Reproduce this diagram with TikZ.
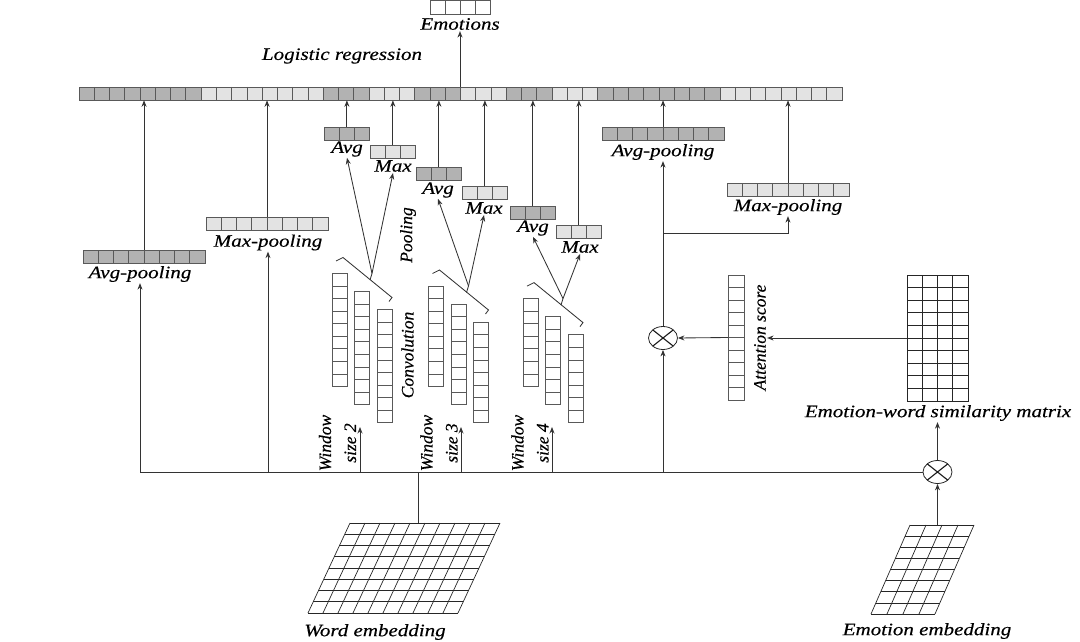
\documentclass[tikz,border=0pt]{standalone}
\usepackage{fontspec}
\setmainfont{Liberation Serif}[FakeStretch=1.2,FakeBold=0.35]
\newfontfamily\rotfont{Liberation Serif}[FakeBold=0.35]
\usetikzlibrary{arrows.meta,calc,shapes.geometric}

\tikzset{
  lab/.style={font=\fontsize{17.5}{21}\selectfont\itshape, inner sep=1pt},
  rlab/.style={font=\rotfont\fontsize{17.5}{25}\selectfont\itshape, rotate=90, inner sep=1pt, align=center},
  ln/.style={draw=black!80, line width=0.85pt},
  arr/.style={ln, -{Stealth[length=6.5pt,width=5pt]}},
  vecbox/.style={draw=black!65, line width=0.7pt, inner sep=0pt, outer sep=0pt, anchor=north west},
  dark/.style={fill=black!30},
  light/.style={fill=black!11},
  blank/.style={fill=white},
  cellline/.style={draw=black!65, line width=0.7pt},
  gridline/.style={draw=black!85, line width=0.7pt},
  otimes/.style={ellipse, draw=black!85, line width=0.8pt, inner sep=0pt,
    minimum width=29pt, minimum height=23pt, fill=white,
    path picture={\draw[black!90,line width=1.1pt]
      (path picture bounding box.north west) -- (path picture bounding box.south east)
      (path picture bounding box.north east) -- (path picture bounding box.south west);}},
}

% horizontal vector: name, position (top-left), cells, cell width, fill style
\newcommand{\hvec}[5]{%
  \node[vecbox,#5,minimum width={#3*#4pt},minimum height=13.3pt] (#1) at #2 {};
  \pgfmathtruncatemacro\nlast{#3-1}
  \foreach \k in {1,...,\nlast}{%
    \draw[cellline] ([xshift=\k*#4pt]#1.north west) -- ([xshift=\k*#4pt]#1.south west);}
}
% vertical vector: name, position (top-left), cells, cell height, width
\newcommand{\vvec}[5]{%
  \node[vecbox,fill=white,minimum width=#5pt,minimum height={#3*#4pt}] (#1) at #2 {};
  \pgfmathtruncatemacro\nlast{#3-1}
  \foreach \k in {1,...,\nlast}{%
    \draw[cellline] ([yshift=-\k*#4pt]#1.north west) -- ([yshift=-\k*#4pt]#1.north east);}
}
% convolution group: id, X, Y (top-left of first column), cells
\newcommand{\convgroup}[4]{%
  \vvec{c#1a}{(#2,#3)}{#4}{12.55}{15}
  \vvec{c#1b}{(#2+22.5,#3+18.1)}{#4}{12.55}{15}
  \vvec{c#1c}{(#2+45,#3+36.2)}{#4}{12.55}{15}
  \draw[ln] (#2+4,#3-12.5) -- (#2+11,#3-16) -- (#2+60,#3+24) -- (#2+57,#3+28);
  \coordinate (ap#1) at (#2+40,#3);
  \draw[ln] (#2+38,#3+6.5) -- (ap#1);
}

\begin{document}
\begin{tikzpicture}[x=1pt,y=-1pt]
\useasboundingbox (0,0) rectangle (1080,642);

% ---------- top concatenated vector ----------
\hvec{b1}{(79,87)}{8}{15.26}{dark}
\hvec{b2}{(b1.north east)}{8}{15.26}{light}
\hvec{b3}{(b2.north east)}{3}{15.26}{dark}
\hvec{b4}{(b3.north east)}{3}{15.26}{light}
\hvec{b5}{(b4.north east)}{3}{15.26}{dark}
\hvec{b6}{(b5.north east)}{3}{15.26}{light}
\hvec{b7}{(b6.north east)}{3}{15.26}{dark}
\hvec{b8}{(b7.north east)}{3}{15.26}{light}
\hvec{b9}{(b8.north east)}{8}{15.26}{dark}
\hvec{b10}{(b9.north east)}{8}{15.26}{light}

% ---------- output ----------
\hvec{emo}{(430,0.6)}{4}{15}{blank}
\node[lab] (emolab) at (460,24) {Emotions};
\node[lab] (lrlab) at (342,56) {Logistic regression};
\draw[arr] (emolab.south |- b1.north) -- (emolab.south);

% ---------- pooled vectors ----------
\hvec{avgL}{(83,250)}{8}{15.26}{dark}
\hvec{maxL}{(206,217)}{8}{15.26}{light}
\hvec{a2}{(324,127)}{3}{15.26}{dark}
\hvec{m2}{(370,145)}{3}{15.26}{light}
\hvec{a3}{(416,167)}{3}{15.26}{dark}
\hvec{m3}{(462,186)}{3}{15.26}{light}
\hvec{a4}{(510,206)}{3}{15.26}{dark}
\hvec{m4}{(556,225)}{3}{15.26}{light}
\hvec{avgR}{(602,127)}{8}{15.26}{dark}
\hvec{maxR}{(727,183)}{8}{15.26}{light}

\node[lab] (avgLlab) at (140,274) {Avg-pooling};
\node[lab] (maxLlab) at (268,242.5) {Max-pooling};
\node[lab] (a2lab) at (347,149) {Avg};
\node[lab] (m2lab) at (393,166) {Max};
\node[lab] (a3lab) at (438,190) {Avg};
\node[lab] (m3lab) at (484,208) {Max};
\node[lab] (a4lab) at (533,228) {Avg};
\node[lab] (m4lab) at (580,247) {Max};
\node[lab] (avgRlab) at (663,152) {Avg-pooling};
\node[lab] (maxRlab) at (788,207) {Max-pooling};

\foreach \v/\g in {avgL/b1,maxL/b2,a2/b3,m2/b4,a3/b5,m3/b6,a4/b7,m4/b8,avgR/b9,maxR/b10}
  \draw[arr] (\v.north) -- (\v.north |- \g.south);

% ---------- convolution groups ----------
\convgroup{2}{332}{273.5}{9}
\convgroup{3}{428.5}{286}{8}
\convgroup{4}{523}{298.6}{7}

\draw[arr] (ap2) -- (a2lab.south);
\draw[arr] (ap2) -- (m2lab.south);
\draw[arr] (ap3) -- (a3lab.south);
\draw[arr] (ap3) -- (m3lab.south);
\draw[arr] (ap4) -- (a4lab.south);
\draw[arr] (ap4) -- (m4lab.south);

\node[rlab] (poollab) at (408,235) {Pooling};
\node[rlab] (convlab) at (407.5,355) {Convolution};

\node[rlab] (w2lab) at (337.5,443) {Window\\size 2};
\node[rlab] (w3lab) at (439,443) {Window\\size 3};
\node[rlab] (w4lab) at (530,443) {Window\\size 4};

% ---------- main line ----------
\coordinate (mainL) at (140,472);
\node[otimes] (ot2) at (937.5,472) {};
\draw[ln] (mainL) -- (ot2.west);

\draw[arr] (mainL) -- (avgLlab.south);
\draw[arr] (maxLlab.south |- mainL) -- (maxLlab.south);

\coordinate (w2t) at (360,427);
\coordinate (w3t) at (461,427);
\coordinate (w4t) at (552,427);
\draw[arr] (w2t |- mainL) -- (w2t);
\draw[arr] (w3t |- mainL) -- (w3t);
\draw[arr] (w4t |- mainL) -- (w4t);

% ---------- word embedding ----------
\foreach \i in {0,...,10} \draw[gridline] (350+15*\i,523) -- (308+15*\i,613);
\foreach \j in {0,...,8} \draw[gridline] (350-5.25*\j,523+11.25*\j) -- (500-5.25*\j,523+11.25*\j);
\coordinate (wetop) at (418,523);
\node[lab] (welab) at (375,632) {Word embedding};
\draw[ln] (wetop) -- (wetop |- mainL);

% ---------- emotion embedding ----------
\foreach \i in {0,...,4} \draw[gridline] (910+16*\i,525) -- (871+16*\i,614);
\foreach \j in {0,...,8} \draw[gridline] (910-4.875*\j,525+11.125*\j) -- (974-4.875*\j,525+11.125*\j);
\coordinate (eetop) at (937.5,525);
\node[lab] (eelab) at (927,631) {Emotion embedding};
\draw[arr] (eetop) -- (ot2.south);

% ---------- similarity matrix ----------
\node[vecbox,fill=white,draw=black!85,minimum width=61pt,minimum height=126pt] (sim) at (907,275) {};
\foreach \k in {1,2,3} \draw[gridline] ([xshift=\k*15.25pt]sim.north west) -- ([xshift=\k*15.25pt]sim.south west);
\foreach \k in {1,...,9} \draw[gridline] ([yshift=-\k*12.6pt]sim.north west) -- ([yshift=-\k*12.6pt]sim.north east);
\node[lab] (simlab) at (938,413) {Emotion-word similarity matrix};
\draw[arr] (ot2.north) -- (ot2.north |- simlab.south);

% ---------- attention ----------
\vvec{att}{(728,275)}{10}{12.5}{16}
\node[rlab] (attlab) at (760,337.5) {Attention score};
\draw[arr] (sim.west) -- (sim.west -| attlab.south);
\node[otimes] (ot1) at (663,338) {};
\draw[arr] (att.west) -- (ot1.east);
\draw[arr] (ot1.south |- mainL) -- (ot1.south);
\draw[arr] (ot1.north) -- (avgRlab.south);
\coordinate (br) at (663,233);
\draw[arr] (br) -| (maxRlab.south);

\end{tikzpicture}
\end{document}
